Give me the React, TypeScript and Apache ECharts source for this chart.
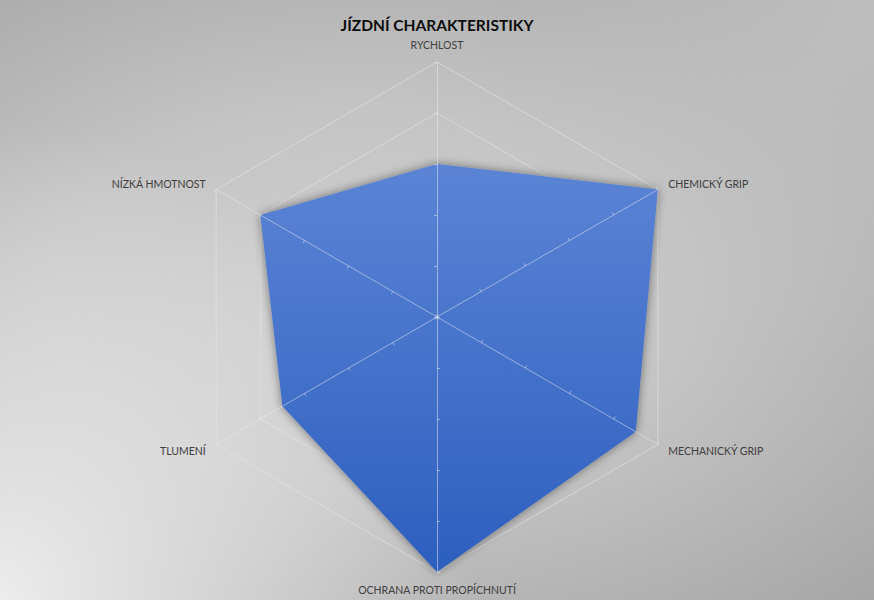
import React, { useEffect, useRef } from "react";
import * as echarts from "echarts";

const titleText = "JÍZDNÍ CHARAKTERISTIKY";
// clockwise from the top, as in the reference
const indicators = [
  "RYCHLOST",
  "CHEMICKÝ GRIP",
  "MECHANICKÝ GRIP",
  "OCHRANA PROTI PROPÍCHNUTÍ",
  "TLUMENÍ",
  "NÍZKÁ HMOTNOST",
];
const values = [3, 5, 4.5, 5, 3.5, 4];
const maxValue = 5;

// ECharts lays radar axes counter-clockwise: keep the first, reverse the rest
function ccw<T>(arr: T[]): T[] {
  return [arr[0], ...arr.slice(1).reverse()];
}

export default function App() {
  const ref = useRef<HTMLDivElement>(null);
  useEffect(() => {
    document.body.style.margin = "0";
    if (!ref.current) return;
    const chart = echarts.init(ref.current, null, { renderer: "svg" });
    const ind = ccw(indicators).map((n) => ({ name: n, max: maxValue }));
    const common = {
      indicator: ind,
      center: [437, 317],
      radius: 255,
      startAngle: 90,
      splitNumber: 5,
      shape: "polygon" as const,
    };
    chart.setOption({
      animation: false,
      backgroundColor: "transparent",
      title: {
        text: titleText,
        left: "center",
        top: 12,
        textStyle: {
          fontFamily: "Lato",
          fontWeight: "bold",
          fontSize: 15.5,
          color: "#0d0d0d",
        },
      },
      radar: [
        {
          ...common,
          z: 1,
          axisName: {
            color: "#404040",
            fontFamily: "Lato",
            fontSize: 10.5,
          },
          nameGap: 12,
          splitLine: { lineStyle: { color: "rgba(230,230,230,0.6)", width: 1 } },
          splitArea: { show: false },
          axisLine: { show: false },
          axisTick: { show: false },
        },
        {
          ...common,
          z: 10,
          axisName: { show: false },
          splitLine: { show: false },
          splitArea: { show: false },
          axisLine: { show: true, lineStyle: { color: "rgba(235,235,240,0.5)", width: 1 } },
          axisTick: { show: true, length: 3, lineStyle: { color: "rgba(235,235,240,0.5)" } },
        },
      ],
      series: [
        {
          type: "radar",
          radarIndex: 0,
          z: 5,
          symbol: "none",
          lineStyle: { width: 0, color: "#4a75cc" },
          areaStyle: {
            opacity: 1,
            color: new echarts.graphic.LinearGradient(0, 0, 0, 1, [
              { offset: 0, color: "#5b84d5" },
              { offset: 1, color: "#2d5fbf" },
            ]),
            shadowBlur: 10,
            shadowColor: "rgba(0,0,0,0.45)",
          },
          data: [{ value: ccw(values), name: titleText }],
        },
      ],
    });
    return () => chart.dispose();
  }, []);
  return (
    <div
      ref={ref}
      style={{
        width: 874,
        height: 600,
        background:
          "radial-gradient(circle at 0% 100%, rgba(240,240,240,0.95) 0%, rgba(240,240,240,0) 45%), radial-gradient(circle at 100% 0%, rgba(200,200,200,0.7) 0%, rgba(200,200,200,0) 35%), radial-gradient(ellipse at 42% 50%, #d0d0d0 0%, #c4c4c4 45%, #a6a6a6 100%)",
      }}
    />
  );
}
